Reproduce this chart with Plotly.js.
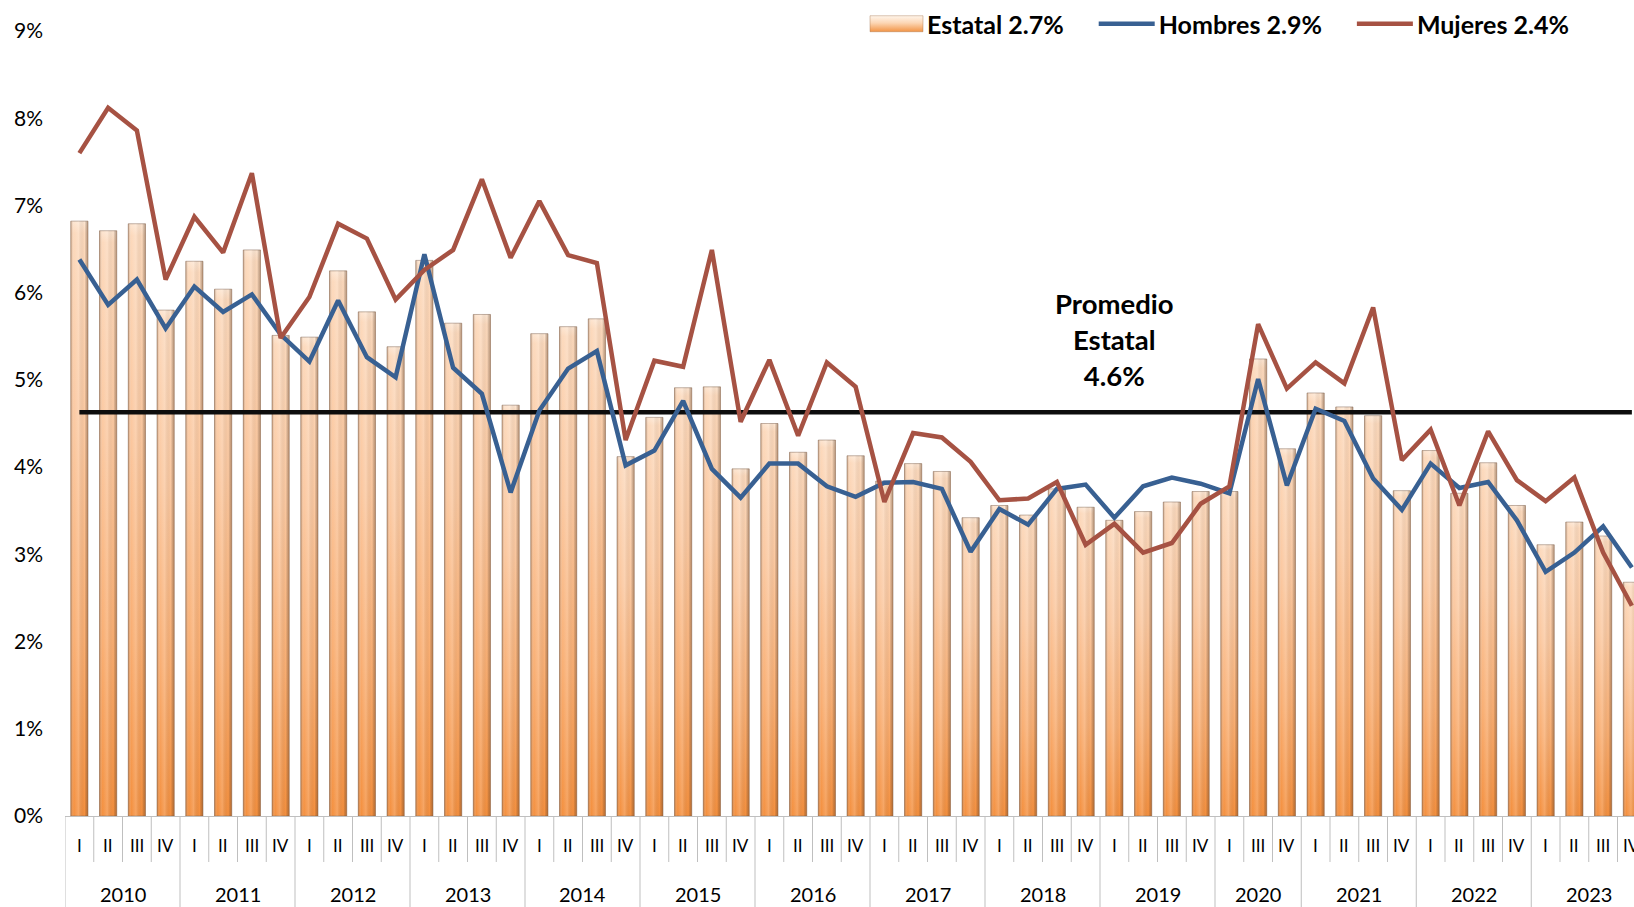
<!DOCTYPE html>
<html>
<head>
<meta charset="utf-8">
<script src="https://cdn.plot.ly/plotly-3.0.1.min.js"></script>
<style>
  html, body { margin: 0; padding: 0; background: #ffffff; }
  #chart { width: 1634px; height: 907px; }
</style>
</head>
<body>
<div id="chart"></div>
<script>
// ---- Data ----
const years = ['2010','2011','2012','2013','2014','2015','2016','2017','2018','2019','2020','2021','2022','2023'];
const quarterLabels = [
  'I','II','III','IV', 'I','II','III','IV', 'I','II','III','IV', 'I','II','III','IV',
  'I','II','III','IV', 'I','II','III','IV', 'I','II','III','IV', 'I','II','III','IV',
  'I','II','III','IV', 'I','II','III','IV',
  'I','III','IV',
  'I','II','III','IV', 'I','II','III','IV', 'I','II','III','IV'
];
const quartersPerYear = [4,4,4,4,4,4,4,4,4,4,3,4,4,4];

const estatal = [
  6.82, 6.71, 6.79, 5.80,
  6.36, 6.04, 6.49, 5.51,
  5.49, 6.25, 5.78, 5.38,
  6.37, 5.65, 5.75, 4.71,
  5.53, 5.61, 5.70, 4.12,
  4.57, 4.91, 4.92, 3.98,
  4.50, 4.17, 4.31, 4.13,
  3.84, 4.04, 3.95, 3.42,
  3.56, 3.45, 3.75, 3.54,
  3.39, 3.49, 3.60, 3.72,
  3.72, 5.24, 4.21,
  4.85, 4.69, 4.59, 3.73,
  4.19, 3.70, 4.05, 3.56,
  3.11, 3.37, 3.21, 2.68
];
const hombres = [
  6.38, 5.86, 6.15, 5.59,
  6.07, 5.78, 5.98, 5.52,
  5.21, 5.91, 5.26, 5.03,
  6.44, 5.14, 4.84, 3.71,
  4.65, 5.13, 5.33, 4.02,
  4.19, 4.76, 3.98, 3.65,
  4.04, 4.04, 3.78, 3.66,
  3.82, 3.83, 3.75, 3.03,
  3.52, 3.34, 3.75, 3.80,
  3.42, 3.78, 3.88, 3.81,
  3.70, 5.01, 3.79,
  4.67, 4.53, 3.87, 3.51,
  4.04, 3.76, 3.83, 3.39,
  2.80, 3.02, 3.32, 2.85
];
const mujeres = [
  7.60, 8.12, 7.86, 6.15,
  6.87, 6.46, 7.37, 5.48,
  5.95, 6.79, 6.62, 5.92,
  6.26, 6.49, 7.30, 6.40,
  7.05, 6.43, 6.34, 4.31,
  5.22, 5.15, 6.49, 4.52,
  5.23, 4.36, 5.20, 4.92,
  3.60, 4.39, 4.34, 4.06,
  3.62, 3.64, 3.83, 3.11,
  3.35, 3.02, 3.13, 3.58,
  3.78, 5.64, 4.90,
  5.20, 4.96, 5.83, 4.08,
  4.43, 3.56, 4.41, 3.85,
  3.61, 3.88, 3.02, 2.41
];
const promedio = 4.63;
const seriesNames = ['Estatal 2.7%', 'Hombres 2.9%', 'Mujeres 2.4%'];
const promedioLabel = 'Promedio<br>Estatal<br>4.6%';
const yTicks = [0,1,2,3,4,5,6,7,8,9];

// ---- Build ----
const idx = quarterLabels.map((_, i) => i);
const FONT = 'Lato, "Open Sans", "Liberation Sans", sans-serif';

const W = 1634, H = 907;
const margin = {l: 65, r: 0, t: 31, b: 91};
const plotW = W - margin.l - margin.r;
const plotH = H - margin.t - margin.b;
const bandPx = 28.75;
const xMin = -0.5, xMax = -0.5 + plotW / bandPx;

const yearStarts = [];
let acc = 0;
quartersPerYear.forEach(n => { yearStarts.push(acc); acc += n; });
const yearBoundarySet = new Set(yearStarts.concat([acc]));

const shapes = [];
for (let b = 0; b <= quarterLabels.length; b++) {
  const isYear = yearBoundarySet.has(b);
  shapes.push({
    type: 'line', xref: 'x', yref: 'paper',
    x0: b - 0.5, x1: b - 0.5,
    y0: 0, y1: isYear ? -(91 / plotH) : -(46 / plotH),
    line: {color: '#BFBFBF', width: 1}
  });
}

const annotations = [];
quarterLabels.forEach((q, i) => {
  annotations.push({
    xref: 'x', yref: 'paper', x: i, y: -(29 / plotH),
    text: q, showarrow: false, xanchor: 'center', yanchor: 'middle',
    font: {family: FONT, size: 17, color: '#000000'}
  });
});
years.forEach((yr, k) => {
  const s = yearStarts[k], n = quartersPerYear[k];
  annotations.push({
    xref: 'x', yref: 'paper', x: s + (n - 1) / 2, y: -(78 / plotH),
    text: yr, showarrow: false, xanchor: 'center', yanchor: 'middle',
    font: {family: FONT, size: 20, color: '#000000'}
  });
});
annotations.push({
  xref: 'x', yref: 'y', x: 36, y: 5.46,
  text: promedioLabel, showarrow: false, xanchor: 'center', yanchor: 'middle',
  align: 'center',
  font: {family: FONT, size: 27.5, color: '#000000', weight: 700}
});

const traces = [
  {
    type: 'bar', x: idx, y: estatal, name: seriesNames[0], width: 0.6,
    marker: {color: '#F9B47C', line: {color: 'rgba(130,100,80,0.5)', width: 1}},
    hoverinfo: 'y'
  },
  {
    type: 'scatter', mode: 'lines', x: [idx[0], idx[idx.length - 1]], y: [promedio, promedio],
    line: {color: '#0d0d0d', width: 4.5}, showlegend: false, hoverinfo: 'skip'
  },
  {
    type: 'scatter', mode: 'lines', x: idx, y: hombres, name: seriesNames[1],
    line: {color: '#386092', width: 4.5}
  },
  {
    type: 'scatter', mode: 'lines', x: idx, y: mujeres, name: seriesNames[2],
    line: {color: '#A65243', width: 4.5}
  }
];

const layout = {
  width: W, height: H,
  margin: margin,
  paper_bgcolor: '#ffffff', plot_bgcolor: '#ffffff',
  font: {family: FONT, color: '#000000'},
  showlegend: true,
  legend: {
    orientation: 'h', x: (1574 - margin.l) / plotW, xanchor: 'right',
    y: (816 - 24) / plotH, yanchor: 'middle',
    bgcolor: 'rgba(0,0,0,0)',
    font: {family: FONT, size: 25, color: '#000000', weight: 700},
    itemwidth: 80, tracegroupgap: 0
  },
  bargap: 0.4,
  xaxis: {
    range: [xMin, xMax], showticklabels: false, ticks: '',
    showgrid: false, zeroline: false,
    showline: true, linecolor: '#BFBFBF', linewidth: 1, fixedrange: true
  },
  yaxis: {
    range: [0, 9], tickvals: yTicks, ticktext: yTicks.map(v => v + '%'),
    showgrid: false, zeroline: false, showline: false, ticks: '',
    ticklabelstandoff: 21,
    tickfont: {family: FONT, size: 21, color: '#000000'}, fixedrange: true
  },
  shapes: shapes,
  annotations: annotations
};

function makeGrad(defs, id, horizontal, stops) {
  const svgNS = 'http://www.w3.org/2000/svg';
  const g = document.createElementNS(svgNS, 'linearGradient');
  g.setAttribute('id', id);
  g.setAttribute('x1', '0'); g.setAttribute('y1', '0');
  g.setAttribute('x2', horizontal ? '1' : '0'); g.setAttribute('y2', horizontal ? '0' : '1');
  stops.forEach(([o, c, a]) => {
    const st = document.createElementNS(svgNS, 'stop');
    st.setAttribute('offset', o); st.setAttribute('stop-color', c);
    if (a !== undefined) st.setAttribute('stop-opacity', a);
    g.appendChild(st);
  });
  defs.appendChild(g);
}

Plotly.newPlot('chart', traces, layout, {displayModeBar: false, staticPlot: true}).then(gd => {
  const svgNS = 'http://www.w3.org/2000/svg';
  const mainSvg = gd.querySelector('svg.main-svg');
  let defs = mainSvg.querySelector('defs');
  if (!defs) { defs = document.createElementNS(svgNS, 'defs'); mainSvg.insertBefore(defs, mainSvg.firstChild); }
  makeGrad(defs, 'barGrad', false, [['0', '#FDE6D2'], ['0.02', '#FCD9BC'], ['0.35', '#FBC8A0'], ['0.7', '#F9AE72'], ['1', '#F4903F']]);
  makeGrad(defs, 'barShade', true, [['0', '#7a5030', 0.45], ['0.18', '#ffffff', 0.0], ['0.45', '#ffffff', 0.18], ['0.8', '#000000', 0.0], ['1', '#7a5030', 0.45]]);
  makeGrad(defs, 'legGrad', false, [['0', '#FFF6EC'], ['0.45', '#FCD6B4'], ['1', '#F29446']]);

  gd.querySelectorAll('.barlayer .point path').forEach(p => {
    p.style.fill = 'url(#barGrad)';
    const c = p.cloneNode(false);
    c.style.fill = 'url(#barShade)';
    c.style.stroke = 'none';
    p.parentNode.appendChild(c);
  });

  const legTraces = gd.querySelectorAll('.legend .traces');
  legTraces.forEach((item, k) => {
    const txt = item.querySelector('text.legendtext');
    const tx = txt ? parseFloat(txt.getAttribute('x')) : 40;
    item.querySelectorAll('.legendlines path').forEach(p => {
      p.setAttribute('d', 'M' + (tx - 60) + ',0h56');
    });
    if (k === 0) {
      item.querySelectorAll('.legendpoints path').forEach(p => {
        p.setAttribute('transform', '');
        p.setAttribute('d', 'M' + (tx - 57) + ',-8h53v16h-53Z');
        p.style.fill = 'url(#legGrad)';
        p.style.stroke = 'rgba(160,110,70,0.8)';
        p.style.strokeWidth = '1px';
      });
    }
  });
});
</script>
</body>
</html>
